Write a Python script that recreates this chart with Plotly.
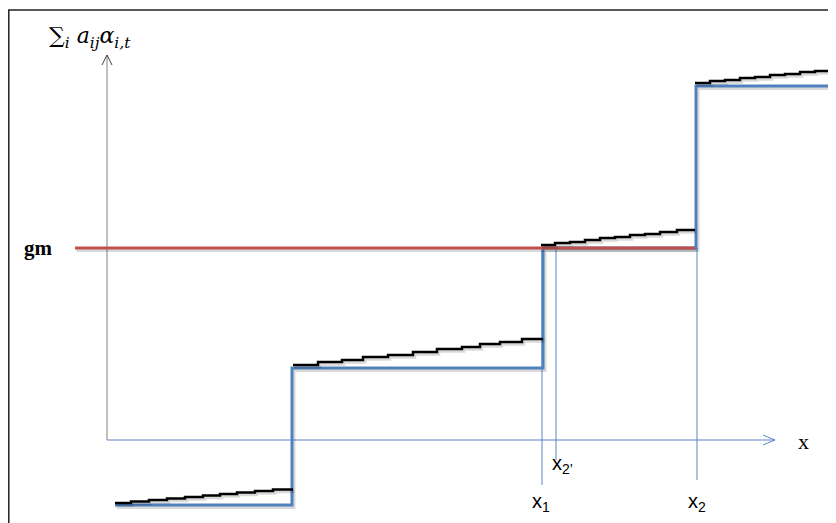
import plotly.graph_objects as go

# ---- data (schematic units: x to the right of the vertical axis, y above the horizontal axis)
step_edges = [8, 185, 436, 589, 735]          # x where the blue step function jumps
blue_levels = [-65, 72, 192, 354]             # blue step heights
gm_level = 192                                # red gm line
gm_x = [-32, 588]

# black staircases (step start x and tread height) for each blue level
stair1_x = [8, 24, 42, 60, 78, 96, 113, 130, 148, 166, 186]
stair1_y = [-63, -61.5, -60, -58.5, -57, -55.5, -54, -52.5, -51, -49.5, -49.5]
stair2_x = [186, 211, 235, 256, 281, 306, 330, 355, 373, 393, 415, 436]
stair2_y = [75, 78, 80, 83, 85, 88, 91, 93, 96, 98, 101, 101]
stair3_x = [434, 448, 463, 478, 493, 508, 523, 538, 553, 570, 588]
stair3_y = [195, 197, 198, 200, 202, 203, 205, 206, 208, 210, 210]
stair4_x = [588, 603, 618, 633, 648, 663, 678, 693, 708, 723, 735]
stair4_y = [357, 359, 360, 362, 363, 365, 366, 368, 369, 371, 371]

# marker lines on the x axis
marks_x = [435, 449, 590]
marks_top = [190, 192, 192]
marks_bottom = [-45, -20, -40]
mark_labels = ["x<sub>1</sub>", "x<sub>2’</sub>", "x<sub>2</sub>"]
label_x = [434, 443, 590]
label_y = [-62, -24, -62]

x_axis_end = 668
y_axis_top = 385

BLUE = "#4f81bd"
RED = "#c0504d"

fig = go.Figure()

def add_line(xs, ys, color, width, shape="linear", shadow=True):
    if shadow:
        fig.add_trace(go.Scatter(x=[v + 1.5 for v in xs], y=[v - 2 for v in ys], mode="lines",
                                 line=dict(color="rgba(0,0,0,0.15)", width=width + 1, shape=shape),
                                 hoverinfo="skip", showlegend=False))
    fig.add_trace(go.Scatter(x=xs, y=ys, mode="lines",
                             line=dict(color=color, width=width, shape=shape),
                             hoverinfo="skip", showlegend=False))

# axes (thin)
fig.add_trace(go.Scatter(x=[0, x_axis_end], y=[0, 0], mode="lines",
                         line=dict(color="#5b86c5", width=1), hoverinfo="skip", showlegend=False))
fig.add_trace(go.Scatter(x=[x_axis_end - 12, x_axis_end, x_axis_end - 12], y=[5, 0, -5], mode="lines",
                         line=dict(color="#5b86c5", width=1), hoverinfo="skip", showlegend=False))
fig.add_trace(go.Scatter(x=[0, 0], y=[0, y_axis_top], mode="lines",
                         line=dict(color="#808080", width=1), hoverinfo="skip", showlegend=False))
fig.add_trace(go.Scatter(x=[-5, 0, 5], y=[y_axis_top - 10, y_axis_top, y_axis_top - 10], mode="lines",
                         line=dict(color="#404040", width=1), hoverinfo="skip", showlegend=False))

# thin vertical markers
for mx, t, b in zip(marks_x, marks_top, marks_bottom):
    fig.add_trace(go.Scatter(x=[mx, mx], y=[b, t], mode="lines",
                             line=dict(color="#5b86c5", width=1), hoverinfo="skip", showlegend=False))

# blue step function
bx, by = [], []
for i, lvl in enumerate(blue_levels):
    bx += [step_edges[i], step_edges[i + 1]]
    by += [lvl, lvl]
add_line(bx, by, BLUE, 3)

# red gm line
add_line(gm_x, [gm_level, gm_level], RED, 3)

# black staircases
for sx, sy in [(stair1_x, stair1_y), (stair2_x, stair2_y), (stair3_x, stair3_y), (stair4_x, stair4_y)]:
    add_line(sx, sy, "black", 2.5, shape="hv")

# labels
for lx, ly, txt in zip(label_x, label_y, mark_labels):
    fig.add_annotation(x=lx, y=ly, text=txt, showarrow=False, xanchor="left" if "’" in txt else "center",
                       font=dict(family="Liberation Sans", size=20, color="black"))
fig.add_annotation(x=696, y=-1, text="x", showarrow=False,
                   font=dict(family="Liberation Serif", size=22, color="black"))
fig.add_annotation(x=-69, y=gm_level, text="<b>gm</b>", showarrow=False,
                   font=dict(family="Liberation Serif", size=21, color="black"))
fig.add_annotation(x=-17, y=403, text="∑<sub><i>i</i></sub> <i>a<sub>ij</sub>α<sub>i,t</sub></i>",
                   showarrow=False, font=dict(family="DejaVu Serif", size=22, color="black"))

# frame (left edge as far left as the figure allows)
fig.add_shape(type="rect", xref="x", yref="y", x0=-98.2, y0=430, x1=760, y1=-100,
              line=dict(color="#222222", width=1.5))

# the page adds an 8 px body margin, so the ranges are shifted by 8 units
fig.update_layout(width=836, height=523, margin=dict(l=0, r=0, t=0, b=0),
                  plot_bgcolor="white", paper_bgcolor="white", showlegend=False)
fig.update_xaxes(range=[-99, 737], visible=False, fixedrange=True)
fig.update_yaxes(range=[-91, 432], visible=False, fixedrange=True)

fig.write_html("out.html")
